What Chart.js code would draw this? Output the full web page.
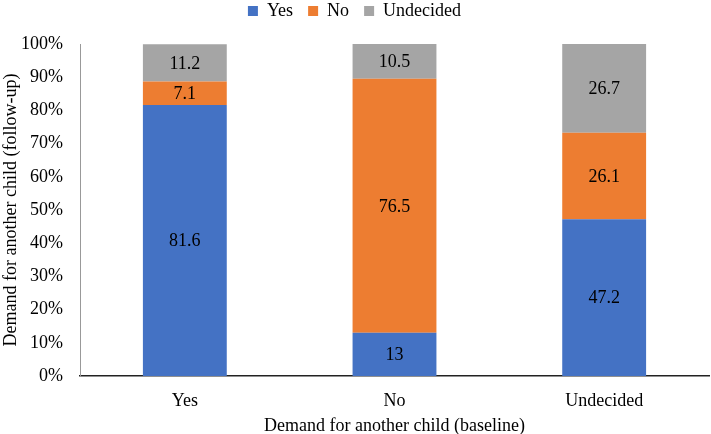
<!DOCTYPE html>
<html>
<head>
<meta charset="utf-8">
<script src="https://cdn.jsdelivr.net/npm/chart.js@4/dist/chart.umd.min.js"></script>
<style>
html,body{margin:0;padding:0;background:#fff;}
#wrap{width:711px;height:434px;position:relative;}
</style>
</head>
<body>
<div id="wrap"><canvas id="c" width="711" height="434"></canvas></div>
<script>
const categories = ["Yes", "No", "Undecided"];
const yesValues = [81.6, 13, 47.2];
const noValues = [7.1, 76.5, 26.1];
const undecidedValues = [11.2, 10.5, 26.7];
const yTicks = [0, 10, 20, 30, 40, 50, 60, 70, 80, 90, 100];

const FONT = "'Liberation Serif', 'Times New Roman', serif";

const labelPlugin = {
  id: 'segLabels',
  afterDatasetsDraw(chart) {
    const ctx = chart.ctx;
    ctx.save();
    ctx.font = '18px ' + FONT;
    ctx.fillStyle = '#000';
    ctx.textAlign = 'center';
    ctx.textBaseline = 'middle';
    chart.data.datasets.forEach((ds, di) => {
      const meta = chart.getDatasetMeta(di);
      meta.data.forEach((bar, i) => {
        const v = ds.data[i];
        const p = bar.getProps(['x', 'y', 'base'], true);
        ctx.fillText(String(v), p.x, (p.y + p.base) / 2 + 1);
      });
    });
    ctx.restore();
  }
};

const legendSpace = {
  id: 'legendSpace',
  afterInit(chart) {
    const lg = chart.legend;
    if (!lg) return;
    const orig = lg.fit;
    lg.fit = function () { orig.call(this); this.height += 14; };
  }
};

new Chart(document.getElementById('c'), {
  type: 'bar',
  data: {
    labels: categories,
    datasets: [
      { label: 'Yes', data: yesValues, backgroundColor: '#4472C4' },
      { label: 'No', data: noValues, backgroundColor: '#ED7D31' },
      { label: 'Undecided', data: undecidedValues, backgroundColor: '#A5A5A5' }
    ]
  },
  options: {
    responsive: false,
    animation: false,
    layout: { padding: { top: -13, right: 2, left: 0, bottom: 0 } },
    datasets: { bar: { barPercentage: 0.4, categoryPercentage: 1.0 } },
    plugins: {
      legend: {
        position: 'top',
        labels: {
          boxWidth: 10, boxHeight: 10, padding: 15,
          color: '#000',
          font: { family: FONT, size: 18 }
        }
      },
      tooltip: { enabled: false }
    },
    scales: {
      x: {
        stacked: true,
        afterFit(scale) { scale.height = 58; },
        grid: { display: false },
        border: { display: true, color: '#222', width: 1.5 },
        ticks: { color: '#000', font: { family: FONT, size: 18 }, padding: 6 },
        title: { display: true, text: 'Demand for another child (baseline)', color: '#000', font: { family: FONT, size: 18 }, padding: { top: 0, bottom: -3 } }
      },
      y: {
        stacked: true,
        min: 0, max: 100,
        afterFit(scale) { scale.width = 80; },
        afterBuildTicks(scale) { scale.ticks = yTicks.map(v => ({ value: v })); },
        grid: { display: false },
        border: { display: true, color: '#999', width: 1 },
        ticks: { color: '#000', font: { family: FONT, size: 18 }, padding: 9, callback: v => v + '%' },
        title: { display: true, text: 'Demand for another child (follow-up)', color: '#000', font: { family: FONT, size: 18 }, padding: { top: 0, bottom: 0 } }
      }
    }
  },
  plugins: [labelPlugin, legendSpace]
});
</script>
</body>
</html>
